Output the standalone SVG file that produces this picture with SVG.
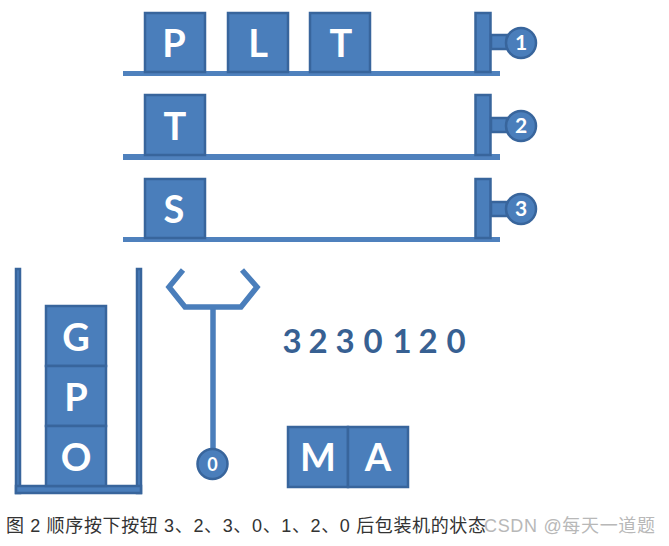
<svg xmlns="http://www.w3.org/2000/svg" width="669" height="546" viewBox="0 0 669 546">
<style>
.b{fill:#4a7ebb;stroke:#38659c;stroke-width:2.5}
.r{fill:#4f81bd}
.l{fill:none;stroke:#4a7ebb;stroke-width:5.500}
.t{font-family:"Lato","Open Sans",sans-serif;font-weight:700;font-size:38px;fill:#fff;text-anchor:middle}
.n{font-family:"Lato","Open Sans",sans-serif;font-weight:700;font-size:21px;fill:#fff;text-anchor:middle}
.s{font-family:"Lato","Open Sans",sans-serif;font-weight:700;font-size:33px;fill:#376092;text-anchor:middle}
.c{font-family:"Liberation Sans","Noto Sans CJK SC",sans-serif;font-size:18px;fill:#333}
</style>
<rect width="669" height="546" fill="#fff"/>
<g id="connectors">
<rect class="r" x="123" y="71" width="377" height="5"/>
<rect class="r" x="123" y="154" width="377" height="6"/>
<rect class="r" x="123" y="237" width="377" height="5"/>
<path class="l" d="M213 309V450"/>
<path class="l" d="M183 270L169 287L185 307H241L257 287L242 270"/>
</g>
<g id="rails">
<g id="rail1"><rect class="b" x="475.500" y="13" width="15" height="59"/><rect class="b" x="491" y="35" width="16" height="14"/></g>
<g id="rail2"><rect class="b" x="475.500" y="95" width="15" height="60"/><rect class="b" x="491" y="118" width="16" height="14"/></g>
<g id="rail3"><rect class="b" x="475.500" y="179" width="15" height="59"/><rect class="b" x="491" y="202" width="16" height="14"/></g>
</g>
<g id="btn1"><circle class="b" cx="521" cy="43" r="15"/><text class="n" x="521" y="50">1</text></g>
<g id="btn2"><circle class="b" cx="521" cy="126" r="15"/><text class="n" x="521" y="133">2</text></g>
<g id="btn3"><circle class="b" cx="521" cy="209" r="15"/><text class="n" x="521" y="216">3</text></g>
<g id="btn0"><circle class="b" cx="212.500" cy="464" r="15"/><text class="n" x="212.500" y="471" style="font-size:18px">0</text></g>
<g id="box-p1"><rect class="b" x="145" y="13" width="60" height="59"/><text class="t" x="174" y="57">P</text></g>
<g id="box-l"><rect class="b" x="228" y="13" width="60" height="59"/><text class="t" x="258" y="57">L</text></g>
<g id="box-t1"><rect class="b" x="310" y="13" width="60" height="59"/><text class="t" x="341" y="57">T</text></g>
<g id="box-t2"><rect class="b" x="145" y="95" width="60" height="60"/><text class="t" x="175" y="140">T</text></g>
<g id="box-s"><rect class="b" x="145" y="179" width="60" height="59"/><text class="t" x="174" y="223">S</text></g>
<g id="hopper">
<rect class="b" x="16" y="269" width="4" height="224"/>
<rect class="b" x="137" y="269" width="4" height="224"/>
<rect class="b" x="16" y="486" width="125" height="7"/>
</g>
<g id="box-g"><rect class="b" x="46" y="306" width="60" height="60"/><text class="t" x="76" y="351">G</text></g>
<g id="box-p2"><rect class="b" x="46" y="366" width="60" height="60"/><text class="t" x="76" y="411">P</text></g>
<g id="box-o"><rect class="b" x="46" y="426" width="60" height="60"/><text class="t" x="76" y="471">O</text></g>
<g id="box-m"><rect class="b" x="288" y="427" width="60" height="60"/><text class="t" x="318" y="471">M</text></g>
<g id="box-a"><rect class="b" x="348" y="427" width="60" height="60"/><text class="t" x="378" y="471">A</text></g>
<g id="sequence">
<text class="s" x="292" y="353">3</text><text class="s" x="318" y="353">2</text><text class="s" x="345" y="353">3</text><text class="s" x="373" y="353">0</text><text class="s" x="402" y="353">1</text><text class="s" x="428" y="353">2</text><text class="s" x="456" y="353">0</text>
</g>
<text class="c" x="6" y="532" textLength="480">图 2 顺序按下按钮 3、2、3、0、1、2、0 后包装机的状态</text>
<text class="c" x="484" y="532" style="fill:#b8b8b8" textLength="171">CSDN @每天一道题</text>
</svg>
